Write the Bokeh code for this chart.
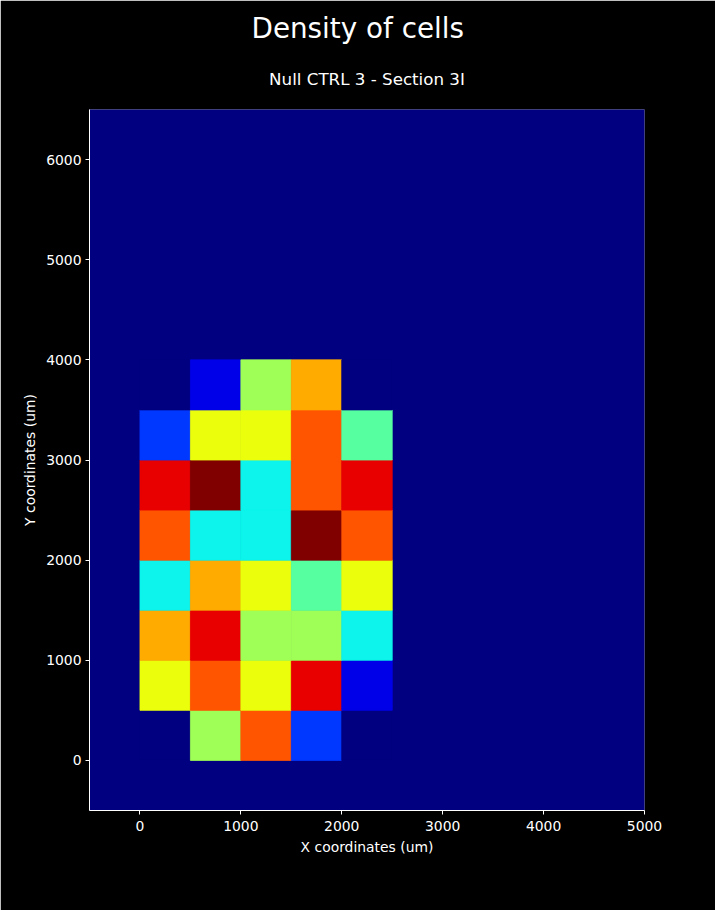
import numpy as np
from bokeh.plotting import figure
from bokeh.models import ColumnDataSource, LinearColorMapper, FixedTicker, Title
from bokeh.transform import transform
from bokeh.embed import file_html
from bokeh.resources import INLINE

# ---- data (cell density on a 500 um grid) ----
bin_size = 500
x_bins = [0, 500, 1000, 1500, 2000]          # left edges of columns (um)
y_bins = [0, 500, 1000, 1500, 2000, 2500, 3000, 3500]  # bottom edges of rows (um)
row_y0 = [0, 6, 9, 2, 0]
row_y500 = [7, 9, 7, 10, 1]
row_y1000 = [8, 10, 6, 6, 4]
row_y1500 = [4, 8, 7, 5, 7]
row_y2000 = [9, 4, 4, 11, 9]
row_y2500 = [10, 11, 4, 9, 10]
row_y3000 = [2, 7, 7, 9, 5]
row_y3500 = [0, 1, 6, 8, 0]
rows = [row_y0, row_y500, row_y1000, row_y1500, row_y2000, row_y2500, row_y3000, row_y3500]
x_ticks = [0, 1000, 2000, 3000, 4000, 5000]
y_ticks = [0, 1000, 2000, 3000, 4000, 5000, 6000]

# ---- jet palette (256 entries) ----
def jet_palette(n=256):
    t = np.linspace(0, 1, n)
    r = np.interp(t, [0, 0.35, 0.66, 0.89, 1], [0, 0, 1, 1, 0.5])
    g = np.interp(t, [0, 0.125, 0.375, 0.64, 0.91, 1], [0, 0, 1, 1, 0, 0])
    b = np.interp(t, [0, 0.11, 0.34, 0.65, 1], [0.5, 1, 1, 0, 0])
    return ["#%02x%02x%02x" % (int(round(rr * 255)), int(round(gg * 255)), int(round(bb * 255)))
            for rr, gg, bb in zip(r, g, b)]

palette = jet_palette()
vmax = max(max(r) for r in rows)
mapper = LinearColorMapper(palette=palette, low=0, high=vmax)

left, right, bottom, top, dens = [], [], [], [], []
for yb, row in zip(y_bins, rows):
    for xb, v in zip(x_bins, row):
        left.append(xb)
        right.append(xb + bin_size)
        bottom.append(yb)
        top.append(yb + bin_size)
        dens.append(v)
source = ColumnDataSource(dict(left=left, right=right, bottom=bottom, top=top, density=dens))

FONT = "DejaVu Sans"
p = figure(width=715, height=910, x_range=(-500, 5000), y_range=(-500, 6500),
           output_backend="svg", toolbar_location=None, title=None,
           min_border_left=89, min_border_right=71, min_border_top=109, min_border_bottom=100)
p.background_fill_color = palette[0]
p.border_fill_color = "black"
p.outline_line_color = None
p.outline_line_alpha = 0
p.grid.visible = False

p.quad(left="left", right="right", bottom="bottom", top="top", source=source,
       fill_color=transform("density", mapper), line_color=transform("density", mapper),
       line_width=0.8)

sub = Title(text="Null CTRL 3 - Section 3I", align="center", text_color="white",
            text_font=FONT, text_font_size="16.7px", text_font_style="normal", standoff=41)
p.add_layout(sub, "above")
main = Title(text="Density of cells", align="left", text_color="white",
             text_font=FONT, text_font_size="27.8px", text_font_style="normal",
             offset=162, standoff=3)
p.add_layout(main, "above")

for ax in (p.xaxis[0], p.yaxis[0]):
    ax.axis_line_color = "white"
    ax.major_tick_line_color = "white"
    ax.minor_tick_line_color = None
    ax.major_tick_in = 0
    ax.major_tick_out = 4
    ax.major_label_text_color = "white"
    ax.major_label_text_font = FONT
    ax.major_label_text_font_size = "13.9px"
    ax.axis_label_text_color = "white"
    ax.axis_label_text_font = FONT
    ax.axis_label_text_font_size = "13.9px"
    ax.axis_label_text_font_style = "normal"
    ax.major_label_standoff = 4

p.xaxis[0].major_label_standoff = 6
p.xaxis[0].ticker = FixedTicker(ticks=x_ticks)
p.yaxis[0].ticker = FixedTicker(ticks=y_ticks)
p.xaxis[0].axis_label = "X coordinates (um)"
p.yaxis[0].axis_label = "Y coordinates (um)"

open("out.html", "w").write(file_html(p, INLINE))
